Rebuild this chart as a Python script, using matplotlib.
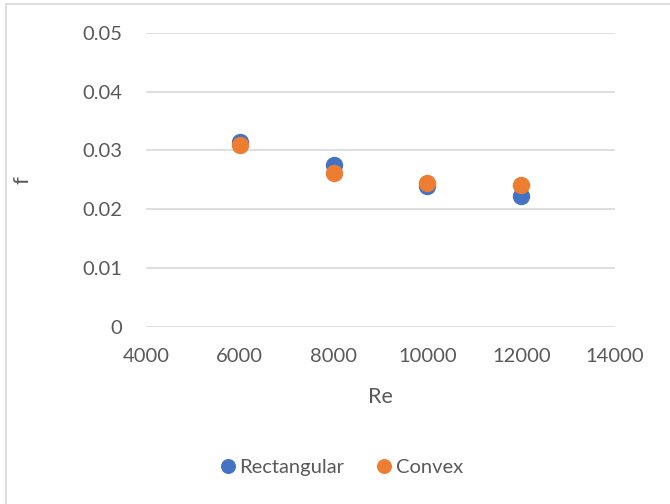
import matplotlib.pyplot as plt
from matplotlib.patches import Rectangle

plt.rcParams['font.family'] = ['Lato', 'DejaVu Sans']

re_values = [6000, 8000, 10000, 12000]
f_rectangular = [0.0314, 0.0276, 0.0240, 0.0223]
f_convex = [0.0309, 0.0262, 0.0244, 0.0241]

blue = '#4472c4'
orange = '#ed7d31'
text_grey = '#595959'

fig = plt.figure(figsize=(6.7, 5.04), dpi=100)
ax = fig.add_axes([0.218, 0.351, 0.700, 0.584])

ax.plot(re_values, f_rectangular, 'o', color=blue, markersize=11.5, label='Rectangular', zorder=3)
ax.plot(re_values, f_convex, 'o', color=orange, markersize=11.5, label='Convex', zorder=4)

ax.set_xlim(4000, 14000)
ax.set_ylim(0, 0.05)
ax.set_xticks([4000, 6000, 8000, 10000, 12000, 14000])
ax.set_yticks([0, 0.01, 0.02, 0.03, 0.04, 0.05])
ax.set_yticklabels(['0', '0.01', '0.02', '0.03', '0.04', '0.05'])
ax.grid(axis='y', color='#d9d9d9', linewidth=1.2)
ax.set_axisbelow(True)
for s in ax.spines.values():
    s.set_visible(False)
ax.tick_params(length=0, labelsize=14.5, colors=text_grey)
ax.tick_params(axis='x', pad=15)
ax.tick_params(axis='y', pad=17)

ax.set_xlabel('Re', fontsize=15.5, color=text_grey)
ax.set_ylabel('f', fontsize=16, color=text_grey)
ax.xaxis.set_label_coords(0.5, -0.205)
ax.yaxis.set_label_coords(-0.242, 0.5)

fig.legend(loc='center', bbox_to_anchor=(0.508, 0.073), ncol=2, frameon=False,
           fontsize=14.5, labelcolor=text_grey, handletextpad=0.05, columnspacing=1.5,
           handlelength=1.0, markerscale=0.85)

# chart border
fig.patches.append(Rectangle((6 / 670, -0.05), 1.2, 1 - 4 / 504 + 0.05, transform=fig.transFigure,
                             fill=False, edgecolor='#d9d9d9', linewidth=1.2))

fig.savefig('out.png', dpi=100)
